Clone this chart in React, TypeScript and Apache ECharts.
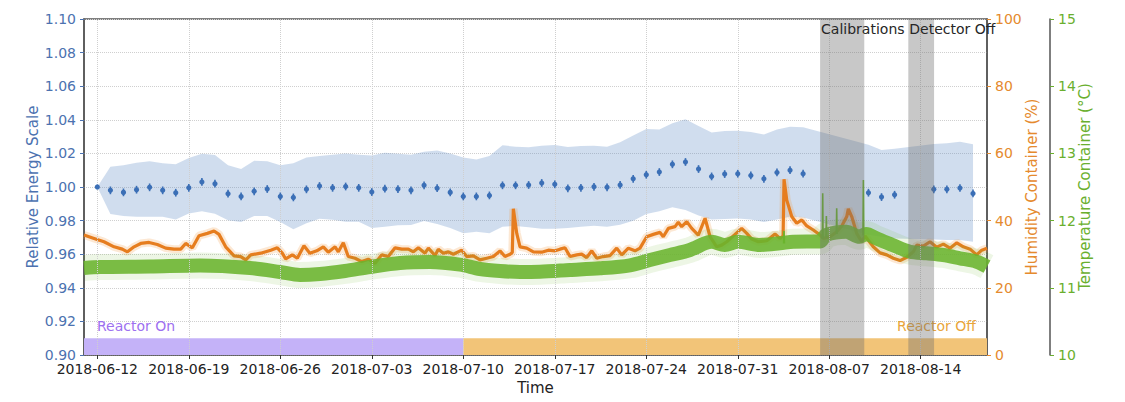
import React, { useEffect, useRef } from 'react';
import * as echarts from 'echarts';

// ---------- data ----------
const START_DATE = '2018-06-12';
const X_MIN_DAY = -1.02;
const X_MAX_DAY = 68.07;

const X_TICK_LABELS = ['2018-06-12', '2018-06-19', '2018-06-26', '2018-07-03', '2018-07-10', '2018-07-17', '2018-07-24', '2018-07-31', '2018-08-07', '2018-08-14'];

// days after START_DATE of each energy-scale measurement
const SCALE_DAYS = [0, 1, 2, 3, 4, 5, 6, 7, 8, 9, 10, 11, 12, 13, 14, 15, 16, 17, 18, 19, 20, 21, 22, 23, 24, 25, 26, 27, 28, 29, 30, 31, 32, 33, 34, 35, 36, 37, 38, 39, 40, 41, 42, 43, 44, 45, 46, 47, 48, 49, 50, 51, 52, 53, 54, 59, 60, 61, 64, 65, 66, 67];
const SCALE_VALUES = [1.0, 0.998, 0.9968, 0.9984, 0.9998, 0.998, 0.9966, 0.9995, 1.003, 1.002, 0.996, 0.9944, 0.9974, 0.9988, 0.9944, 0.9938, 0.9986, 1.0006, 0.9995, 1.0003, 0.9995, 0.997, 0.999, 0.9988, 0.998, 1.001, 0.9993, 0.9968, 0.9944, 0.9944, 0.995, 1.001, 1.001, 1.0012, 1.0024, 1.0016, 0.9992, 0.9995, 1.0001, 0.9998, 1.0012, 1.0049, 1.0073, 1.0089, 1.0135, 1.0149, 1.0107, 1.0063, 1.0077, 1.0079, 1.0069, 1.0049, 1.0087, 1.01, 1.0079, 0.9966, 0.994, 0.9954, 0.9986, 0.9986, 0.9994, 0.9962];
const SCALE_ERRORS = [0, 0.0023, 0.0023, 0.0023, 0.0023, 0.0023, 0.0023, 0.0023, 0.0023, 0.0023, 0.0023, 0.0023, 0.0023, 0.0023, 0.0023, 0.0023, 0.0023, 0.0023, 0.0023, 0.0023, 0.0023, 0.0023, 0.0023, 0.0023, 0.0023, 0.0023, 0.0023, 0.0023, 0.0023, 0.0023, 0.0023, 0.0023, 0.0023, 0.0023, 0.0023, 0.0023, 0.0023, 0.0023, 0.0023, 0.0023, 0.0023, 0.0023, 0.0023, 0.0023, 0.0023, 0.0023, 0.0023, 0.0023, 0.0023, 0.0023, 0.0023, 0.0023, 0.0023, 0.0023, 0.0023, 0.0023, 0.0023, 0.0023, 0.0023, 0.0023, 0.0023, 0.0023];
const BAND_UPPER = [1.0, 1.012, 1.0129, 1.0144, 1.0154, 1.0141, 1.0136, 1.0172, 1.0198, 1.019, 1.0129, 1.0107, 1.0156, 1.0154, 1.0129, 1.0141, 1.0176, 1.0184, 1.0192, 1.02, 1.0192, 1.0188, 1.0204, 1.0198, 1.0192, 1.021, 1.0218, 1.02, 1.0176, 1.0164, 1.0184, 1.0248, 1.024, 1.0236, 1.0246, 1.025, 1.0238, 1.0244, 1.0246, 1.024, 1.0266, 1.0307, 1.0345, 1.0343, 1.0379, 1.0404, 1.0363, 1.0325, 1.0333, 1.0335, 1.0327, 1.0313, 1.0343, 1.0358, 1.0355, 1.0251, 1.022, 1.0228, 1.0256, 1.026, 1.027, 1.0254];
const BAND_LOWER = [1.0, 0.9839, 0.9827, 0.9823, 0.9823, 0.9823, 0.9807, 0.9843, 0.9855, 0.9841, 0.9802, 0.9792, 0.9827, 0.9827, 0.9792, 0.9748, 0.9784, 0.9811, 0.9805, 0.9793, 0.9793, 0.9756, 0.9764, 0.9772, 0.9774, 0.9797, 0.978, 0.9756, 0.9724, 0.9734, 0.9724, 0.9764, 0.9768, 0.976, 0.9752, 0.9752, 0.9756, 0.9764, 0.977, 0.9764, 0.9776, 0.9799, 0.9839, 0.9855, 0.9879, 0.9863, 0.9831, 0.9807, 0.9809, 0.9813, 0.9807, 0.9791, 0.9807, 0.9823, 0.9819, 0.9716, 0.9704, 0.9694, 0.9688, 0.9684, 0.9684, 0.9674];

// [day after START_DATE, humidity %]
const HUMIDITY = [
  [-1.02, 35.7], [-0.25, 34.7], [0.51, 33.7], [1.28, 32.2], [1.91, 31.5], [2.3, 30.7], [2.81, 32.2], [3.32, 33.2], [3.96, 33.5], [4.59, 32.9], [5.23, 31.8], [5.87, 31.5], [6.38, 31.5], [6.76, 33.2], [7.27, 31.9], [7.78, 35.5], [8.42, 36.2], [8.93, 36.9], [9.31, 35.9], [9.82, 32.2], [10.46, 29.5], [10.97, 29.3], [11.36, 28.3], [11.74, 29.8], [12.5, 30.3], [13.27, 31.2], [13.77, 31.9], [14.15, 30.3], [14.41, 28.6], [14.92, 29.8], [15.3, 28.8], [15.81, 32.5],
  [16.26, 30.3], [16.79, 31.0], [17.29, 32.2], [17.67, 30.6], [18.19, 32.2], [18.44, 30.7], [18.82, 33.4], [19.2, 29.3], [19.72, 28.8], [20.23, 27.8], [20.73, 28.5], [21.25, 27.3], [21.76, 29.8], [22.26, 29.3], [22.78, 31.9], [23.29, 31.5], [23.8, 31.5], [24.18, 30.7], [24.56, 31.9], [25.07, 30.3], [25.33, 31.8], [25.84, 29.6], [26.09, 31.5], [26.47, 30.3], [26.86, 30.7], [27.24, 30.0], [27.88, 31.2], [28.26, 29.3], [28.77, 29.5], [29.28, 28.3], [29.79, 28.8], [30.3, 29.3], [30.81, 31.0], [31.19, 29.3], [31.58, 30.0], [31.75, 30.5], [31.83, 43.5], [32.09, 36.2], [32.34, 32.2], [32.85, 31.8], [33.36, 30.7],
  [34.0, 30.6], [34.51, 31.2], [35.02, 31.0], [35.4, 31.5], [35.78, 31.9], [36.17, 29.3], [36.68, 29.8], [37.06, 30.0], [37.44, 29.0], [37.83, 31.0], [38.21, 28.8], [38.71, 29.3], [39.23, 29.6], [39.74, 31.8], [40.12, 29.8], [40.63, 31.8], [41.14, 31.0], [41.52, 31.8], [42.03, 35.2], [42.54, 35.9], [43.05, 36.5], [43.3, 35.2], [43.69, 37.7], [44.2, 38.2], [44.45, 39.5], [44.71, 38.2], [45.1, 39.7], [45.48, 37.7], [45.98, 35.7], [46.5, 40.7], [46.88, 35.2], [47.39, 32.2], [47.77, 32.7], [48.16, 33.7], [48.79, 35.9], [49.3, 37.7], [49.69, 36.2], [50.07, 34.5], [50.57, 33.7],
  [51.22, 34.0], [51.85, 36.0], [52.23, 34.7], [52.47, 35.4], [52.54, 52.3], [52.75, 46.1], [53.13, 41.2], [53.51, 39.2], [53.9, 40.2], [54.28, 38.4], [54.78, 37.2], [55.3, 35.7], [55.55, 34.7], [56.06, 35.2], [56.57, 36.7], [56.96, 38.4], [57.34, 41.2], [57.46, 43.5], [57.72, 41.2], [58.1, 36.2], [58.48, 33.7], [58.74, 35.4], [59.37, 32.2], [59.89, 30.4], [60.4, 29.8], [60.9, 28.8], [61.42, 28.1], [61.93, 29.1], [62.43, 30.7], [62.69, 32.7], [63.2, 32.4], [63.71, 33.7], [64.22, 32.1], [64.73, 33.0], [65.24, 31.8], [65.76, 33.4], [66.26, 32.2], [66.78, 31.5], [67.28, 29.8], [67.67, 31.2], [68.07, 31.8],
];

// [day after START_DATE, temperature °C] – centre of the dense band
const TEMPERATURE = [
  [-1.02, 11.295], [0.21, 11.31], [4.03, 11.317], [7.86, 11.332], [11.69, 11.295], [13.98, 11.235], [15.51, 11.19], [17.04, 11.205], [18.95, 11.25], [20.86, 11.31], [23.16, 11.369], [25.45, 11.384], [27.75, 11.345], [29.28, 11.28], [30.81, 11.25], [32.34, 11.235], [33.87, 11.24], [36.16, 11.265], [38.46, 11.29], [40.75, 11.335], [42.28, 11.414], [43.81, 11.488], [45.34, 11.5625], [46.49, 11.662], [47.0, 11.686], [48.0, 11.637], [49.0, 11.686], [50.7, 11.637], [52.23, 11.662], [53.25, 11.686], [55.3, 11.69], [55.75, 11.786], [57.29, 11.835], [58.31, 11.76], [58.82, 11.8], [59.59, 11.737], [60.83, 11.637], [62.18, 11.537], [63.46, 11.513], [64.71, 11.488], [66.0, 11.439], [67.28, 11.388], [68.07, 11.314],
];
// [day, base °C, peak °C]
const TEMP_SPIKES = [
  [52.54, 11.66, 11.845], [55.5, 11.73, 12.406], [55.78, 11.75, 12.07], [56.57, 11.8, 12.183], [58.61, 11.78, 12.604],
];

// periods: [start day, end day]
const REACTOR_ON = [X_MIN_DAY, 28];
const REACTOR_OFF = [28, X_MAX_DAY];
const CALIBRATIONS = [55.3, 58.68];
const DETECTOR_OFF = [62.05, 64.02];

// ---------- styles ----------
const FONT = '"DejaVu Sans", "Liberation Sans", sans-serif';
const BLUE = '#3b6fb6';
const BLUE_LABEL = '#4c72b0';
const ORANGE = '#e67d1e';
const ORANGE_LABEL = '#e58a2e';
const GREEN = '#6ab42d';
const GREEN_LABEL = '#6aaf2e';
const FRAME = '#555555';
const GRID = '#cfcfcf';

const DAY_MS = 86400000;
function parseDate(s: string): number {
  const [y, m, d] = s.split('-').map(Number);
  return new Date(y, m - 1, d).getTime();
}
const START = parseDate(START_DATE);
const t = (d: number) => START + d * DAY_MS;
function fmtDate(v: number): string {
  const d = new Date(Math.round(v / 3600000) * 3600000);
  const p = (n: number) => String(n).padStart(2, '0');
  return `${d.getFullYear()}-${p(d.getMonth() + 1)}-${p(d.getDate())}`;
}

function buildOption(): any {
  const tickTimes = X_TICK_LABELS.map(parseDate);
  const bandRows = SCALE_DAYS.map((d, i) => [t(d), BAND_LOWER[i], BAND_UPPER[i]]);
  const points = SCALE_DAYS.map((d, i) => [t(d), SCALE_VALUES[i], SCALE_ERRORS[i]]);
  const hum = HUMIDITY.map(([d, v]) => [t(d), v]);
  const temp = TEMPERATURE.map(([d, v]) => [t(d), v]);

  const reactorData = [
    [t(REACTOR_ON[0]), t(REACTOR_ON[1]), 0.9, 0.91, 0],
    [t(REACTOR_OFF[0]), t(REACTOR_OFF[1]), 0.9, 0.91, 1],
  ];
  const grayData = [
    [t(CALIBRATIONS[0]), t(CALIBRATIONS[1]), 0],
    [t(DETECTOR_OFF[0]), t(DETECTOR_OFF[1]), 1],
  ];

  const spikeSeries = TEMP_SPIKES.map(([d, b, p]) => ({
    type: 'line',
    yAxisIndex: 2,
    data: [[t(d - 0.03), b], [t(d), p], [t(d + 0.03), b]],
    symbol: 'none',
    lineStyle: { color: GREEN, width: 1.6 },
    silent: true,
    z: 4,
  }));

  return {
    animation: false,
    grid: { left: 84, right: 138, top: 19, bottom: 47, show: true, borderColor: FRAME, borderWidth: 1.5, backgroundColor: 'transparent' },
    xAxis: {
      type: 'value',
      min: t(X_MIN_DAY),
      max: t(X_MAX_DAY),
      name: 'Time',
      nameLocation: 'middle',
      nameGap: 25,
      nameMoveOverlap: false,
      nameTextStyle: { color: '#222', fontSize: 15, fontFamily: FONT },
      axisLine: { show: true, lineStyle: { color: FRAME, width: 1.5 } },
      axisTick: { show: true, customValues: tickTimes, length: 4, lineStyle: { color: '#333' } },
      axisLabel: { customValues: tickTimes, formatter: (v: number) => fmtDate(v), color: '#222', fontSize: 14, fontFamily: FONT, margin: 7, hideOverlap: false },
      splitLine: { show: false },
    },
    yAxis: [
      {
        type: 'value', position: 'left', min: 0.9, max: 1.1, interval: 0.02,
        name: 'Relative Energy Scale', nameLocation: 'middle', nameGap: 44, nameMoveOverlap: false,
        nameTextStyle: { color: BLUE_LABEL, fontSize: 15, fontFamily: FONT },
        axisLine: { show: true, lineStyle: { color: FRAME, width: 1.5 } },
        axisTick: { show: true, length: 4, lineStyle: { color: BLUE_LABEL } },
        axisLabel: { color: BLUE_LABEL, fontSize: 14, fontFamily: FONT, margin: 8, formatter: (v: number) => v.toFixed(2) },
        splitLine: { show: true, lineStyle: { color: GRID, type: 'dotted', width: 1 } },
      },
      {
        type: 'value', position: 'right', min: 0, max: 100, interval: 20,
        name: 'Humidity Container (%)', nameLocation: 'middle', nameGap: 37, nameMoveOverlap: false,
        nameTextStyle: { color: ORANGE_LABEL, fontSize: 15, fontFamily: FONT },
        axisLine: { show: true, lineStyle: { color: FRAME, width: 1.5 } },
        axisTick: { show: true, length: 4, lineStyle: { color: ORANGE_LABEL } },
        axisLabel: { color: ORANGE_LABEL, fontSize: 14, fontFamily: FONT, margin: 8 },
        splitLine: { show: false },
      },
      {
        type: 'value', position: 'right', offset: 63, min: 10, max: 15, interval: 1,
        name: 'Temperature Container (°C)', nameLocation: 'middle', nameGap: 27, nameMoveOverlap: false,
        nameTextStyle: { color: GREEN_LABEL, fontSize: 15, fontFamily: FONT },
        axisLine: { show: true, lineStyle: { color: FRAME, width: 1.5 } },
        axisTick: { show: true, length: 4, lineStyle: { color: GREEN_LABEL } },
        axisLabel: { color: GREEN_LABEL, fontSize: 14, fontFamily: FONT, margin: 8 },
        splitLine: { show: false },
      },
    ],
    series: [
      {
        type: 'custom',
        name: 'reactor',
        yAxisIndex: 0,
        z: 1,
        clip: false,
        silent: true,
        data: reactorData,
        encode: { x: [0, 1], y: [2, 3] },
        renderItem: (params: any, api: any) => {
          const p0 = api.coord([api.value(0), api.value(3)]);
          const p1 = api.coord([api.value(1), api.value(2)]);
          const on = api.value(4) === 0;
          const fill = on ? '#c4b2f8' : '#f2c478';
          const children: any[] = [
            { type: 'rect', shape: { x: p0[0], y: p0[1], width: p1[0] - p0[0], height: p1[1] - p0[1] }, style: { fill } },
            on
              ? { type: 'text', x: p0[0] + 13, y: p0[1] - 5, style: { text: 'Reactor On', fill: '#9d70f0', font: `14px ${FONT}`, align: 'left', verticalAlign: 'bottom' } }
              : { type: 'text', x: p1[0] - 11, y: p0[1] - 5, style: { text: 'Reactor Off', fill: '#e9a53a', font: `14px ${FONT}`, align: 'right', verticalAlign: 'bottom' } },
          ];
          return { type: 'group', children };
        },
      },
      {
        type: 'custom',
        name: 'band',
        yAxisIndex: 0,
        z: 1,
        silent: true,
        data: bandRows,
        encode: { x: 0, y: [1, 2] },
        markLine: {
          silent: true, symbol: ['none', 'none'], label: { show: false },
          lineStyle: { color: GRID, type: 'dotted', width: 1 },
          data: tickTimes.map((v) => ({ xAxis: v })),
        },
        renderItem: (params: any, api: any) => {
          if (params.dataIndex !== 0) return null;
          const upper = bandRows.map((r) => api.coord([r[0], r[2]]));
          const lower = bandRows.map((r) => api.coord([r[0], r[1]])).reverse();
          return {
            type: 'polygon',
            shape: { points: upper.concat(lower) },
            style: { fill: 'rgba(98,142,198,0.3)' },
          };
        },
      },
      {
        type: 'line', yAxisIndex: 1, data: hum, symbol: 'none',
        lineStyle: { color: 'rgba(240,150,60,0.22)', width: 8 }, silent: true, z: 2,
      },
      {
        type: 'line', yAxisIndex: 1, data: hum, symbol: 'none',
        lineStyle: { color: ORANGE, width: 3.2 }, silent: true, z: 2,
      },
      {
        type: 'line', yAxisIndex: 2, data: temp, symbol: 'none', smooth: 0.3,
        lineStyle: { color: 'rgba(106,180,45,0.12)', width: 26, join: 'round' }, silent: true, z: 3,
      },
      {
        type: 'line', yAxisIndex: 2, data: temp, symbol: 'none', smooth: 0.3,
        lineStyle: { color: 'rgba(106,180,45,0.88)', width: 14, join: 'round' }, silent: true, z: 3,
      },
      ...spikeSeries,
      {
        type: 'custom',
        name: 'scale',
        yAxisIndex: 0,
        z: 5,
        data: points,
        encode: { x: 0, y: 1 },
        renderItem: (params: any, api: any) => {
          const x = api.value(0);
          const y = api.value(1);
          const e = api.value(2);
          const c = api.coord([x, y]);
          const top = api.coord([x, y + e]);
          const bot = api.coord([x, y - e]);
          return {
            type: 'group',
            children: [
              { type: 'line', shape: { x1: c[0], y1: top[1], x2: c[0], y2: bot[1] }, style: { stroke: BLUE, lineWidth: 1.6 } },
              { type: 'circle', shape: { cx: c[0], cy: c[1], r: 2.6 }, style: { fill: BLUE } },
            ],
          };
        },
      },
      {
        type: 'custom',
        name: 'gray',
        yAxisIndex: 0,
        z: 6,
        clip: false,
        silent: true,
        data: grayData,
        encode: { x: [0, 1] },
        renderItem: (params: any, api: any) => {
          const cs = params.coordSys;
          const x0 = api.coord([api.value(0), 1.0])[0];
          const x1 = api.coord([api.value(1), 1.0])[0];
          const label = api.value(2) === 0 ? 'Calibrations' : 'Detector Off';
          return {
            type: 'group',
            children: [
              { type: 'rect', shape: { x: x0, y: cs.y, width: x1 - x0, height: cs.height }, style: { fill: 'rgba(110,110,110,0.38)' } },
              { type: 'text', x: x0 + 1, y: cs.y + 3, style: { text: label, fill: '#262626', font: `14px ${FONT}`, align: 'left', verticalAlign: 'top' } },
            ],
          };
        },
      },
    ],
  };
}

export default function App() {
  const ref = useRef<HTMLDivElement>(null);
  useEffect(() => {
    document.body.style.margin = '0';
    if (!ref.current) return;
    const chart = echarts.init(ref.current, undefined, { renderer: 'svg' });
    chart.setOption(buildOption());
    return () => chart.dispose();
  }, []);
  return <div ref={ref} style={{ width: 1125, height: 402, background: '#fff' }} />;
}
